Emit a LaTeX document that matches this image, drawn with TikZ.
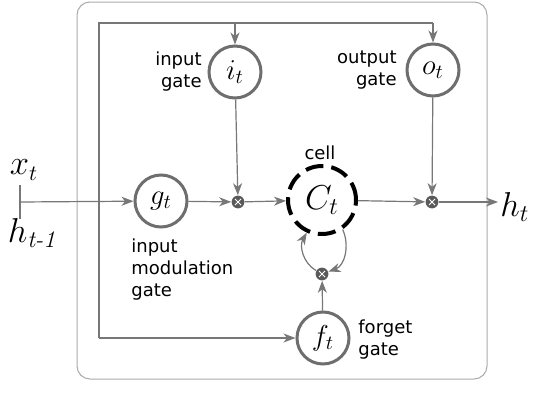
\documentclass[tikz,border=0pt]{standalone}
\usepackage{fontspec}
\usepackage{amsmath}
\newfontfamily\labelfont{DejaVu Sans}
\usetikzlibrary{arrows.meta}
\definecolor{wirecol}{HTML}{777777}
\definecolor{ringcol}{HTML}{6E6E6E}
\definecolor{boxcol}{HTML}{AAAAAA}
\definecolor{multcol}{HTML}{5A5A5A}
\begin{document}
\begin{tikzpicture}[
        x = .5pt, y = -.5pt,
        wire/.style = {draw=wirecol, line width=.6pt},
        feed/.style = {wire, -{Stealth[length=6pt, width=4.5pt, inset=1.8pt]}},
        gate/.style = {circle, draw=ringcol, line width=1.5pt, fill=white,
            minimum size=26pt, inner sep=0pt, font=\fontsize{14}{14}\selectfont},
        cellring/.style = {circle, draw=black, line width=2pt, dash pattern=on 9pt off 4pt,
            minimum size=34pt, inner sep=0pt, font=\fontsize{17}{17}\selectfont},
        mult/.style = {circle, fill=multcol, minimum size=6.4pt, inner sep=0pt,
            path picture={
                \draw[white, line width=.5pt]
                    ([shift={(-1.5pt,-1.5pt)}]path picture bounding box.center) -- ++(3pt,3pt)
                    ([shift={(-1.5pt,1.5pt)}]path picture bounding box.center) -- ++(3pt,-3pt);
            }},
        lbl/.style = {font=\labelfont\fontsize{9}{11}\selectfont, inner sep=0pt}
    ]
        \useasboundingbox (0,0) rectangle (536,412);

        % frame of the unit
        \draw[boxcol, line width=.5pt, rounded corners=6.5pt] (77,2) rectangle (487,379);

        % gates and cell
        \node[gate] (g) at (161,201) {$g_t$};
        \node[gate] (i) at (235,72) {$i_t$};
        \node[gate] (o) at (433,70) {$o_t$};
        \node[gate] (f) at (323,338) {$f_t$};
        \node[cellring] (c) at (322,200) {$C_t$};

        \node[mult] (m1) at (238,202) {};
        \node[mult] (m2) at (432,202) {};
        \node[mult] (m3) at (322,274) {};

        % inputs and output
        \node[font=\fontsize{16}{16}\selectfont] (xt) at (24,170) {$x_t$};
        \node[font=\fontsize{17}{17}\selectfont] (hp) at (32,233) {$h_{\textit{t-1}}$};
        \node[anchor=west, inner sep=1pt, font=\fontsize{17}{17}\selectfont] (ht) at (498,207) {$h_t$};
        \coordinate (in) at (20,202);
        \coordinate (tickt) at (20,185);
        \coordinate (tickb) at (20,219);
        \coordinate (tl) at (99,23);
        \coordinate (bl) at (99,338);

        % labels
        \node[lbl, anchor=east, align=right] (il) at (202,72) {input\\gate};
        \node[lbl, anchor=east, align=right] (ol) at (397,70) {output\\gate};
        \node[lbl] (cl) at (320,153) {cell};
        \node[lbl, anchor=north west, align=left] (gl) at (131,238) {input\\modulation\\gate};
        \node[lbl, anchor=west, align=left] (fl) at (358,340) {forget\\gate};

        % connections
        \draw[wire] (tickt) -- (tickb);
        \draw[feed] (in) -- (g);
        \draw[wire] (tl -| o) -- (tl) -- (bl);
        \draw[feed] (tl -| i) -- (i);
        \draw[feed] (tl -| o) -- (o);
        \draw[feed] (bl) -- (f);
        \draw[feed] (g) -- (m1);
        \draw[feed] (i) -- (m1);
        \draw[feed] (m1) -- (c);
        \draw[feed] (c) -- (m2);
        \draw[feed] (o) -- (m2);
        \draw[feed] (m2) -- (m2 -| ht.west);
        \draw[feed] (f) -- (m3);
        \draw[feed] (m3) to[out=150, in=240] (c.245);
        \draw[feed] (c.305) to[out=-65, in=20] (m3);
    \end{tikzpicture}
\end{document}
